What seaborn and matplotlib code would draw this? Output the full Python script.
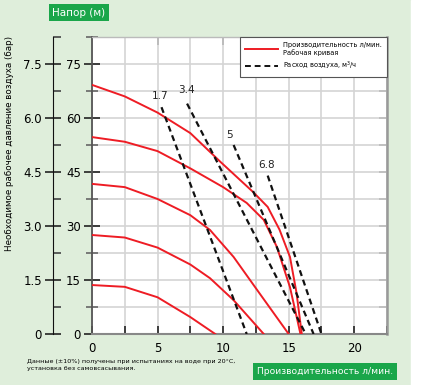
import numpy as np
import pandas as pd
import seaborn as sns
import matplotlib.pyplot as plt
from matplotlib.lines import Line2D

# pump curves: flow (l/min) vs head (m)
c1_x = [0, 2.5, 5, 7.5, 9.8, 12.3, 13.4, 14.3, 15.1, 15.6, 16.0]
c1_y = [69.2, 66.0, 61.5, 55.8, 47.8, 39.4, 35.3, 29.0, 21.4, 11.4, 0]
c2_x = [0, 2.5, 5, 7.5, 10, 11.8, 13.1, 14.1, 15.1, 15.9]
c2_y = [54.7, 53.4, 50.8, 46.0, 40.8, 36.4, 31.7, 24.2, 13.0, 0]
c3_x = [0, 2.5, 5, 7.5, 9, 10.8, 12.6, 15.0]
c3_y = [41.7, 40.8, 37.5, 33.0, 28.9, 21.4, 12.2, 0]
c4_x = [0, 2.5, 5, 7.5, 9, 10.8, 13.1]
c4_y = [27.5, 26.8, 24.0, 19.3, 15.5, 9.4, 0]
c5_x = [0, 2.5, 5, 7.5, 9.4]
c5_y = [13.6, 13.1, 10.2, 4.7, 0]

# air consumption lines (m3/h): start / end points
air_labels = ["1.7", "3.4", "5", "6.8"]
air_x0 = [5.3, 7.25, 10.8, 13.4]
air_y0 = [63.0, 64.0, 52.5, 44.0]
air_x1 = [11.8, 16.3, 16.9, 17.5]
air_y1 = [0, 0, 0, 0]
air_lab_x = [5.2, 7.2, 10.5, 13.3]
air_lab_y = [66.0, 67.8, 55.3, 47.0]

head_ticks = [0, 15, 30, 45, 60, 75]
bar_ticks = [0, 1.5, 3.0, 4.5, 6.0, 7.5]
bar_labels = ["0", "1.5", "3.0", "4.5", "6.0", "7.5"]
flow_ticks = [0, 5, 10, 15, 20]

green_bg = "#dfeedb"
font = ["DejaVu Sans"]

fig = plt.figure(figsize=(4.25, 3.85), dpi=100, facecolor=green_bg)
fig.patches.append(plt.Rectangle((411 / 425, 0), 1, 1, transform=fig.transFigure,
                                 color="white", zorder=0))
ax = fig.add_axes([92 / 425, 1 - 334 / 385, 295 / 425, 297 / 385])
ax.set_facecolor("white")

curves = [(c1_x, c1_y), (c2_x, c2_y), (c3_x, c3_y), (c4_x, c4_y), (c5_x, c5_y)]
for cx, cy in curves:
    sns.lineplot(x=cx, y=cy, color="#ee1c24", lw=1.4, sort=False,
                 estimator=None, ax=ax, zorder=3)

for i in range(len(air_labels)):
    sns.lineplot(x=[air_x0[i], air_x1[i]], y=[air_y0[i], air_y1[i]],
                 color="#111111", lw=1.6, sort=False, estimator=None, ax=ax,
                 zorder=4)
    ax.lines[-1].set_dashes([2.7, 1.8])
    ax.text(air_lab_x[i], air_lab_y[i], air_labels[i], fontsize=7.5,
            ha="center", va="center", color="#222222")

ax.set_xlim(0, 22.5)
ax.set_ylim(0, 82.5)
ax.set_xticks(flow_ticks)
ax.set_xticks(np.arange(0, 22.6, 2.5), minor=True)
ax.set_yticks(head_ticks)
ax.set_yticks(np.arange(0, 82.6, 7.5), minor=True)
ax.grid(True, which="both", color="#d4d4d4", lw=1.2)
ax.set_axisbelow(True)
ax.tick_params(axis="x", which="both", direction="in", length=6, width=1.2,
               color="#222222", pad=6, labelsize=8.5)
ax.tick_params(axis="y", which="major", direction="inout", length=12, width=1.2,
               color="#222222", pad=2, labelsize=8.5)
ax.tick_params(axis="y", which="minor", direction="inout", length=9, width=1.2,
               color="#666666")
for side, col, w in [("left", "#555555", 1.3), ("bottom", "#888888", 1.5),
                     ("right", "#999999", 1.8), ("top", "#bbbbbb", 1.0)]:
    ax.spines[side].set_color(col)
    ax.spines[side].set_linewidth(w)

# ticks on top and right borders
top = ax.secondary_xaxis("top")
top.set_xticks([5, 10, 15, 20])
top.tick_params(direction="in", length=6, width=1.2, color="#222222", labeltop=False)
top.spines["top"].set_visible(False)
right = ax.secondary_yaxis("right")
right.set_yticks(np.arange(7.5, 82.5, 7.5))
right.tick_params(direction="in", length=6, width=1.2, color="#444444", labelright=False)
right.spines["right"].set_visible(False)

# pressure axis (bar)
bar = ax.secondary_yaxis(-39 / 295, functions=(lambda m: m / 10, lambda b: b * 10))
bar.set_yticks(bar_ticks, labels=bar_labels)
bar.set_yticks(np.arange(0, 8.3, 0.75), minor=True)
bar.tick_params(which="major", direction="inout", length=12, width=1.2,
                color="#222222", pad=2, labelsize=8.5)
bar.tick_params(which="minor", direction="in", length=6, width=1.2, color="#444444")
bar.spines["left"].set_color("#111111")
fig.text(10 / 425, 1 - 143 / 385, "Необходимое рабочее давление воздуха (бар)",
         rotation=90, ha="center", va="center", fontsize=6.3)

handles = [Line2D([], [], color="#ee1c24", lw=1.4),
           Line2D([], [], color="#111111", lw=1.4, dashes=[3, 2])]
leg = ax.legend(handles, ["Производительность л/мин.\nРабочая кривая",
                          "Расход воздуха, м$^3$/ч"],
                loc="upper right", bbox_to_anchor=(1, 1), borderaxespad=0,
                fancybox=False, framealpha=1, edgecolor="#555555",
                prop={"size": 4.8}, handlelength=5.0, handletextpad=0.8,
                labelspacing=0.6, borderpad=0.7)
leg.get_frame().set_linewidth(0.8)

box_green = "#1aa64a"
fig.text(79 / 425, 1 - 12.5 / 385, "Напор (м)", ha="center", va="center",
         color="white", fontsize=7.5,
         bbox=dict(boxstyle="square,pad=0.35", fc=box_green, ec="none"))
fig.text(325 / 425, 1 - 371.5 / 385, "Производительность л/мин.", ha="center",
         va="center", color="white", fontsize=6.6,
         bbox=dict(boxstyle="square,pad=0.4", fc=box_green, ec="none"))
fig.text(27 / 425, 1 - 365 / 385,
         "Данные (±10%) получены при испытаниях на воде при 20°C,\n"
         "установка без самовсасывания.",
         ha="left", va="center", fontsize=4.6, linespacing=1.3)

fig.savefig("out.png", dpi=100, facecolor=green_bg)
